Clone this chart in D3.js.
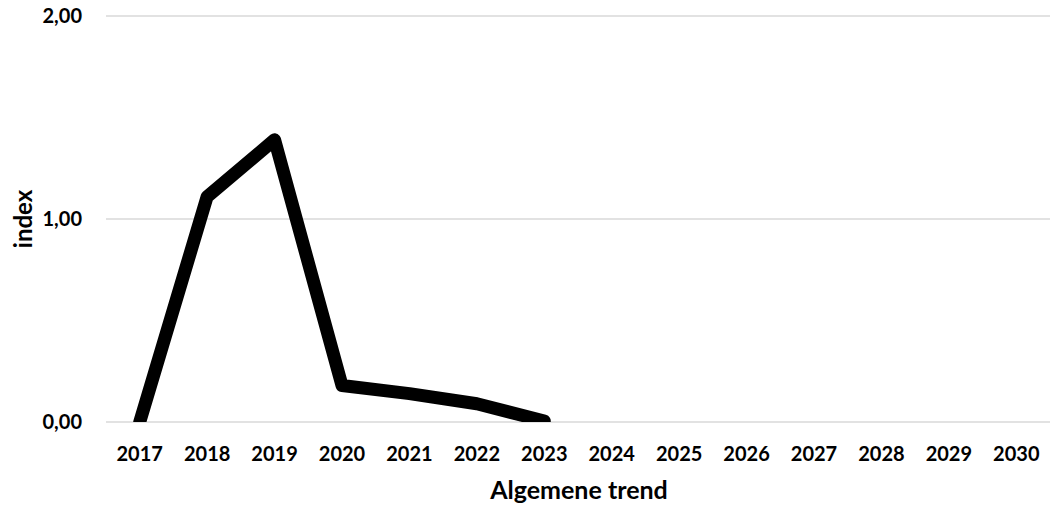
<!DOCTYPE html>
<html>
<head>
<meta charset="utf-8">
<script src="https://cdn.jsdelivr.net/npm/d3@7"></script>
<style>
  body { margin: 0; background: #fff; }
  text { font-family: Lato, "Open Sans", sans-serif; font-weight: bold; fill: #000; }
</style>
</head>
<body>
<svg id="chart" width="1050" height="508"></svg>
<script>
// data
const years = ["2017","2018","2019","2020","2021","2022","2023","2024","2025","2026","2027","2028","2029","2030"];
const values = [0, 1.11, 1.39, 0.18, 0.14, 0.09, 0.005];
const yTicks = [0, 1, 2];

const svg = d3.select("#chart");
const margin = {top: 16, right: 0, bottom: 86, left: 106};
const width = 1050 - margin.left - margin.right,
  height = 508 - margin.top - margin.bottom;

const g = svg.append("g")
  .attr("transform", `translate(${margin.left},${margin.top})`);

// scales
const x = d3.scaleBand().domain(years).range([0, width]);
const y = d3.scaleLinear().domain([0, 2]).range([height, 0]);

// gridlines
g.append("g")
  .selectAll("line")
  .data(yTicks)
  .enter()
  .append("line")
    .attr("x1", 0)
    .attr("x2", width)
    .attr("y1", d => y(d))
    .attr("y2", d => y(d))
    .attr("stroke", "#d9d9d9")
    .attr("stroke-width", 1.5);

// y labels
g.append("g")
  .selectAll("text")
  .data(yTicks)
  .enter()
  .append("text")
    .attr("x", -24)
    .attr("y", d => y(d))
    .attr("dy", "0.35em")
    .attr("text-anchor", "end")
    .style("font-size", "20px")
    .text(d => d3.format(".2f")(d).replace(".", ","));

// x labels
g.append("g")
  .selectAll("text")
  .data(years)
  .enter()
  .append("text")
    .attr("x", d => x(d) + x.bandwidth() / 2)
    .attr("y", height + 39)
    .attr("text-anchor", "middle")
    .style("font-size", "20px")
    .text(d => d);

// clip the line to the plot area
svg.append("defs").append("clipPath")
  .attr("id", "plotclip")
  .append("rect")
    .attr("x", -10)
    .attr("y", -10)
    .attr("width", width + 20)
    .attr("height", height + 10);

const line = d3.line()
  .x((d, i) => x(years[i]) + x.bandwidth() / 2)
  .y(d => y(d));

g.append("path")
  .datum(values)
  .attr("clip-path", "url(#plotclip)")
  .attr("d", line)
  .attr("fill", "none")
  .attr("stroke", "#000")
  .attr("stroke-width", 13)
  .attr("stroke-linejoin", "round")
  .attr("stroke-linecap", "round");

// axis titles
svg.append("text")
  .attr("x", 579)
  .attr("y", 499)
  .attr("text-anchor", "middle")
  .style("font-size", "25px")
  .text("Algemene trend");

svg.append("text")
  .attr("transform", `translate(32,${margin.top + height / 2}) rotate(-90)`)
  .attr("text-anchor", "middle")
  .style("font-size", "24px")
  .text("index");
</script>
</body>
</html>
